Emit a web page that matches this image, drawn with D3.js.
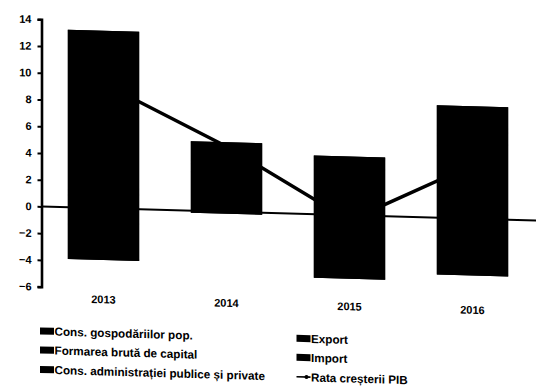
<!DOCTYPE html>
<html>
<head>
<meta charset="utf-8">
<script src="https://cdn.jsdelivr.net/npm/d3@7/dist/d3.min.js"></script>
<style>
  html, body { margin: 0; padding: 0; background: #fff; }
  svg { display: block; }
  text { font-family: "Liberation Sans", Arial, sans-serif; font-weight: bold; fill: #000; }
</style>
</head>
<body>
<svg id="chart" width="540" height="391"></svg>
<script>
// Contributions to growth (percentage points) and GDP growth rate
const years = ["2013", "2014", "2015", "2016"];
const seriesNames = [
  "Cons. gospodăriilor pop.",
  "Formarea brută de capital",
  "Cons. administrației publice și private",
  "Export",
  "Import"
];
const consGospodarii   = [1.0, 3.0, 3.4, 5.5];
const formareaCapital  = [-1.2, 0.6, 0.7, 0.9];
const consAdministratie = [0.4, 0.2, 0.1, 0.3];
const exportVal        = [11.87, 1.4, 0.2, 1.72];
const importVal        = [-2.67, -0.15, -4.75, -4.24];
const rataPIB          = [9.33, 4.88, -0.39, 4.02];
const lineLabel = "Rata creșterii PIB";
const yTicks = [-6, -4, -2, 0, 2, 4, 6, 8, 10, 12, 14];

const seriesValues = [consGospodarii, formareaCapital, consAdministratie, exportVal, importVal];
const rows = years.map((y, i) => {
  const r = { year: y };
  seriesNames.forEach((n, s) => { r[n] = seriesValues[s][i]; });
  return r;
});

const svg = d3.select("#chart");
svg.append("rect").attr("width", 540).attr("height", 391).attr("fill", "#fff");

// The whole drawing is slightly sheared
const shear = 0.0285;
const root = svg.append("g")
  .attr("transform", `translate(0,${-41.5 * shear}) skewY(${Math.atan(shear) * 180 / Math.PI})`);

const x = d3.scaleBand().domain(years).range([42, 534]).paddingInner(0.42).paddingOuter(0.21);
const y = d3.scaleLinear().domain([-6, 14]).range([286.7, 19.3]);

const stack = d3.stack().keys(seriesNames).offset(d3.stackOffsetDiverging);
const stacked = stack(rows);

// Full extent of each stacked column, laid underneath so segment joins stay solid
const extents = years.map((yr, i) => ({
  year: yr,
  lo: d3.min(stacked, s => Math.min(s[i][0], s[i][1])),
  hi: d3.max(stacked, s => Math.max(s[i][0], s[i][1]))
}));
root.append("g").selectAll("rect")
  .data(extents)
  .join("rect")
  .attr("x", d => x(d.year))
  .attr("width", x.bandwidth())
  .attr("y", d => y(d.hi))
  .attr("height", d => y(d.lo) - y(d.hi))
  .attr("fill", "#000");

// Stacked segments (all in black)
root.append("g").selectAll("g")
  .data(stacked)
  .join("g")
  .attr("fill", "#000")
  .selectAll("rect")
  .data(d => d)
  .join("rect")
  .attr("x", d => x(d.data.year))
  .attr("width", x.bandwidth())
  .attr("y", d => y(Math.max(d[0], d[1])))
  .attr("height", d => Math.abs(y(d[0]) - y(d[1])));

// Zero line
root.append("line")
  .attr("x1", 42).attr("x2", 536)
  .attr("y1", y(0)).attr("y2", y(0))
  .attr("stroke", "#000").attr("stroke-width", 2);

// GDP growth line
const line = d3.line()
  .x((d, i) => x(years[i]) + x.bandwidth() / 2)
  .y(d => y(d));
root.append("path")
  .datum(rataPIB)
  .attr("d", line)
  .attr("fill", "none")
  .attr("stroke", "#000")
  .attr("stroke-width", 3.5);

// Y axis
const yAxis = d3.axisLeft(y).tickValues(yTicks).tickSize(4).tickSizeOuter(4).tickPadding(6);
const ya = root.append("g").attr("transform", "translate(41.5,0)").call(yAxis);
ya.select(".domain").attr("stroke", "#000").attr("stroke-width", 2.6);
ya.selectAll(".tick line").attr("stroke", "#000").attr("stroke-width", 2);
ya.selectAll(".tick text")
  .style("font-family", "'Liberation Sans', Arial, sans-serif")
  .style("font-weight", "bold")
  .style("font-size", "11px")
  .attr("fill", "#000");

// Year labels along the bottom
root.append("g").selectAll("text")
  .data(years)
  .join("text")
  .attr("x", d => x(d) + x.bandwidth() / 2)
  .attr("y", 301.5)
  .attr("text-anchor", "middle")
  .style("font-size", "11px")
  .text(d => d);

// Legend
const legendItems = seriesNames.map((n, i) => ({ name: n, type: "bar" }))
  .concat([{ name: lineLabel, type: "line" }]);
const colX = [40, 296.5];
const rowY = [331, 350, 369.5];
const leg = root.append("g").selectAll("g")
  .data(legendItems)
  .join("g")
  .attr("transform", (d, i) => `translate(${colX[Math.floor(i / 3)]},${rowY[i % 3]})`);

leg.filter(d => d.type === "bar").append("rect")
  .attr("x", 0).attr("y", -3.5).attr("width", 14).attr("height", 7)
  .attr("fill", "#000");

leg.filter(d => d.type === "line").append("line")
  .attr("x1", 0).attr("x2", 14).attr("y1", 0).attr("y2", 0)
  .attr("stroke", "#000").attr("stroke-width", 1.6);
leg.filter(d => d.type === "line").append("circle")
  .attr("cx", 10).attr("cy", 0).attr("r", 2).attr("fill", "#000");

leg.append("text")
  .attr("x", 14.5)
  .attr("y", 0)
  .attr("dy", "0.36em")
  .style("font-size", "11.7px")
  .text(d => d.name);
</script>
</body>
</html>
